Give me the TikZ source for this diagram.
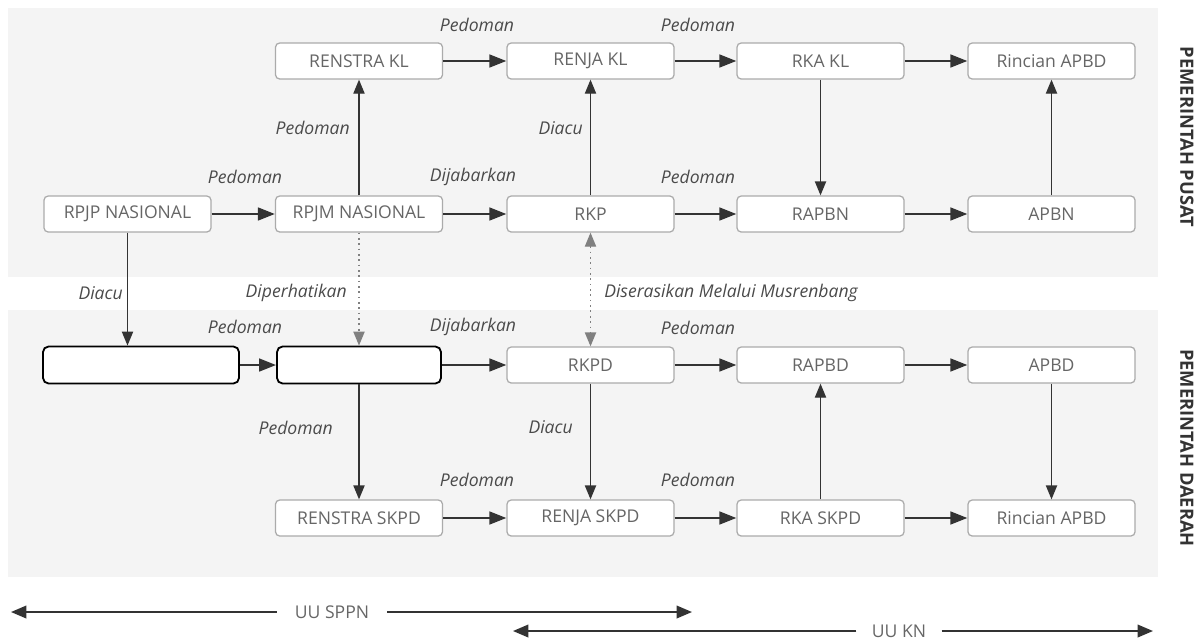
\documentclass[tikz,border=0pt]{standalone}
\usepackage{fontspec}
\setmainfont{Open Sans}
\usetikzlibrary{arrows.meta}
\definecolor{boxline}{HTML}{ABABAB}
\definecolor{boxtext}{HTML}{666666}
\definecolor{lbltext}{HTML}{4A4A4A}
\definecolor{arrowc}{HTML}{333333}
\definecolor{bandc}{HTML}{F4F4F4}

\begin{document}
\begin{tikzpicture}[x=0.025cm,y=-0.025cm,
  box/.style={draw=boxline, fill=white, rounded corners=3pt, line width=0.9pt,
    minimum width=4.175cm, minimum height=0.9cm, inner sep=0pt,
    text=boxtext, font=\fontsize{12.5}{14}\selectfont},
  blank/.style={draw=black, fill=white, rounded corners=4pt, line width=1.3pt,
    minimum height=0.925cm, inner sep=0pt},
  lbl/.style={text=lbltext, font=\fontsize{12.5}{14}\selectfont\itshape, inner sep=0pt},
  side/.style={text=arrowc, font=\fontsize{13}{15}\selectfont\bfseries, rotate=-90},
  flow/.style={-{Triangle[length=12pt,width=9pt]}, line width=1.7pt, draw=arrowc},
  link/.style={-{Triangle[length=10pt,width=8pt]}, line width=1pt, draw=arrowc},
  hint/.style={-{Triangle[length=10pt,width=8pt]}, line width=1pt, draw=gray,
    dash pattern=on 1.2pt off 2.6pt},
  span/.style={-{Triangle[length=11pt,width=9pt]}, line width=1.3pt, draw=arrowc},
  uu/.style={text=boxtext, font=\fontsize{12.5}{14}\selectfont, inner ysep=0pt, inner xsep=0.45cm}
  ]
\useasboundingbox (0,0) rectangle (1200,640);
\fill[bandc] (8,8) rectangle (1158,277);
\fill[bandc] (8,310) rectangle (1158,577);

\node[box] (renstrakl) at (359,61) {RENSTRA KL};
\node[box] (renjakl) at (590.5,61) {RENJA KL};
\node[box] (rkakl) at (820.5,61) {RKA KL};
\node[box] (rincianpusat) at (1051.5,61) {Rincian APBD};

\node[box] (rpjp) at (127.5,214) {RPJP NASIONAL};
\node[box] (rpjm) at (359,214) {RPJM NASIONAL};
\node[box] (rkp) at (590.5,214) {RKP};
\node[box] (rapbn) at (820.5,214) {RAPBN};
\node[box] (apbn) at (1051.5,214) {APBN};

\node[blank, minimum width=4.9cm] (rpjpd) at (141,365) {};
\node[blank, minimum width=4.1cm] (rpjmd) at (359,365) {};
\node[box] (rkpd) at (590.5,365) {RKPD};
\node[box] (rapbd) at (820.5,365) {RAPBD};
\node[box] (apbd) at (1051.5,365) {APBD};

\node[box] (renstraskpd) at (359,518) {RENSTRA SKPD};
\node[box] (renjaskpd) at (590.5,518) {RENJA SKPD};
\node[box] (rkaskpd) at (820.5,518) {RKA SKPD};
\node[box] (rinciandaerah) at (1051.5,518) {Rincian APBD};

\draw[flow] (renstrakl) -- (renjakl);
\draw[flow] (renjakl) -- (rkakl);
\draw[flow] (rkakl) -- (rincianpusat);
\draw[flow] (rpjp) -- (rpjm);
\draw[flow] (rpjm) -- (rkp);
\draw[flow] (rkp) -- (rapbn);
\draw[flow] (rapbn) -- (apbn);
\draw[flow] (rpjpd) -- (rpjmd);
\draw[flow] (rpjmd) -- (rkpd);
\draw[flow] (rkpd) -- (rapbd);
\draw[flow] (rapbd) -- (apbd);
\draw[flow] (renstraskpd) -- (renjaskpd);
\draw[flow] (renjaskpd) -- (rkaskpd);
\draw[flow] (rkaskpd) -- (rinciandaerah);

\draw[link] (rpjm) -- (renstrakl);
\draw[link] (rkp) -- (renjakl);
\draw[link] (rkakl) -- (rapbn);
\draw[link] (apbn) -- (rincianpusat);
\draw[link] (rpjp.south) -- (rpjp.south |- rpjpd.north);
\draw[link] (rpjmd) -- (renstraskpd);
\draw[link] (rkpd) -- (renjaskpd);
\draw[link] (rkaskpd) -- (rapbd);
\draw[link] (apbd) -- (rinciandaerah);
\draw[hint] (rpjm) -- (rpjmd);
\draw[hint, {Triangle[length=10pt,width=8pt]}-{Triangle[length=10pt,width=8pt]}] (rkp) -- (rkpd);

\node[lbl] (l1) at (477,25) {Pedoman};
\node[lbl] (l2) at (698,25) {Pedoman};
\node[lbl, anchor=east] (l3) at (350,128) {Pedoman};
\node[lbl, anchor=east] (l4) at (583,128) {Diacu};
\node[lbl] (l5) at (245,177) {Pedoman};
\node[lbl] (l6) at (473,177) {Dijabarkan};
\node[lbl] (l7) at (698,177) {Pedoman};
\node[lbl, anchor=east] (l8) at (123,293) {Diacu};
\node[lbl, anchor=east] (l9) at (347,293) {Diperhatikan};
\node[lbl, anchor=west] (l10) at (604,293) {Diserasikan Melalui Musrenbang};
\node[lbl] (l11) at (245,327) {Pedoman};
\node[lbl] (l12) at (473,327) {Dijabarkan};
\node[lbl] (l13) at (698,328) {Pedoman};
\node[lbl, anchor=east] (l14) at (333,428) {Pedoman};
\node[lbl, anchor=east] (l15) at (573,427) {Diacu};
\node[lbl] (l16) at (477,480) {Pedoman};
\node[lbl] (l17) at (698,480) {Pedoman};

\node[side] (pusat) at (1187,137) {PEMERINTAH PUSAT};
\node[side] (daerah) at (1187,448) {PEMERINTAH DAERAH};

\node[uu] (sppn) at (332,612) {UU SPPN};
\coordinate (sppnl) at (11,612);
\coordinate (sppnr) at (692,612);
\draw[span] (sppn) -- (sppnl);
\draw[span] (sppn) -- (sppnr);
\node[uu, inner xsep=0.38cm] (kn) at (899,631) {UU KN};
\coordinate (knl) at (513,631);
\coordinate (knr) at (1153,631);
\draw[span] (kn) -- (knl);
\draw[span] (kn) -- (knr);
\end{tikzpicture}
\end{document}
